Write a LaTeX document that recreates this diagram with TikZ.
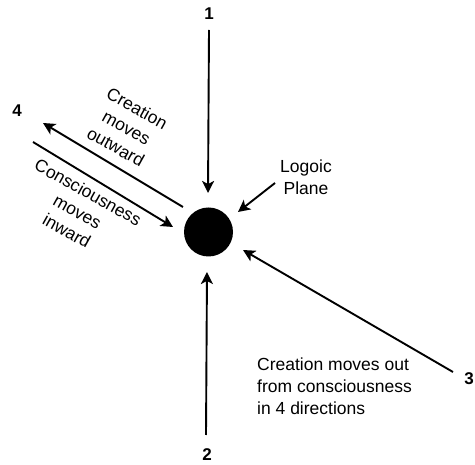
\documentclass[tikz,border=0pt]{standalone}
\usepackage{fontspec}
\setmainfont{Liberation Sans}
\usetikzlibrary{arrows.meta}
\begin{document}
\begin{tikzpicture}[x=1pt,y=-1pt,
  txt/.style={font=\fontsize{17.5}{22}\selectfont, inner sep=0pt},
  num/.style={font=\fontsize{17}{20}\selectfont\bfseries, inner sep=0pt},
  arr/.style={line width=1.9pt, -{Stealth[length=12pt,width=12pt,inset=3pt]}}
]
\useasboundingbox (0,0) rectangle (475,465);
% central body
\node[circle, fill=black, minimum size=49pt, inner sep=0pt] (c) at (208.5,232) {};
% numbers
\node[num] (n1) at (209,14) {1};
\node[num] (n2) at (207,455) {2};
\node[num] (n3) at (469,379) {3};
\node[num] (n4) at (17,111) {4};
% connector end points
\coordinate (s1) at (209,30);
\coordinate (t1) at (208,193);
\coordinate (s2) at (206,435);
\coordinate (t2) at (207,272);
\coordinate (s3) at (453,372);
\coordinate (t3) at (243,250);
\coordinate (s4) at (183,207);
\coordinate (t4) at (43,123);
\coordinate (s5) at (33,142);
\coordinate (t5) at (173,227);
\coordinate (s6) at (275,183);
\coordinate (t6) at (238,212);
% arrows
\draw[arr] (s1) -- (t1);
\draw[arr] (s2) -- (t2);
\draw[arr] (s3) -- (t3);
\draw[arr] (s4) -- (t4);
\draw[arr] (s5) -- (t5);
\draw[arr] (s6) -- (t6);
% labels
\node[txt, align=center, rotate=-29] (lout) at (126.5,127.5) {Creation\\moves\\outward};
\node[txt, align=center, rotate=-29] (lin) at (77.5,211.5) {Consciousness\\moves\\inward};
\node[txt, align=center, anchor=north] (lp) at (306,160) {Logoic\\Plane};
\node[txt, align=left, anchor=north west] (ld) at (257,358) {Creation moves out\\from consciousness\\in 4 directions};
\end{tikzpicture}
\end{document}
